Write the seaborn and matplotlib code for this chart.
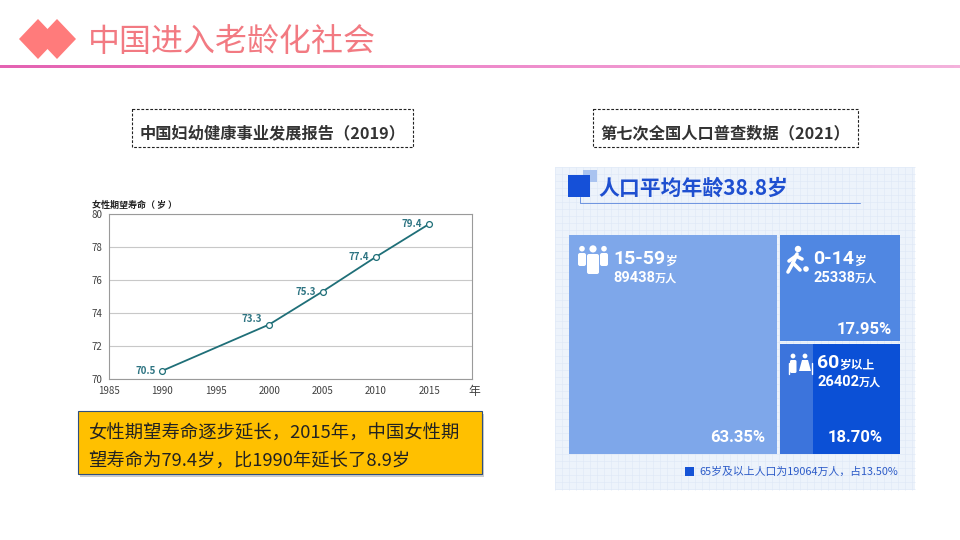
import numpy as np
import pandas as pd
import seaborn as sns
import matplotlib.pyplot as plt
from matplotlib.patches import Rectangle, Polygon, Circle, FancyBboxPatch
from matplotlib.colors import LinearSegmentedColormap

# data: female life expectancy (report 2019)
years = [1990, 2000, 2005, 2010, 2015]
life_exp = [70.5, 73.3, 75.3, 77.4, 79.4]

# data: 7th census (2021)
group_names = ['15-59', '0-14', '60']
group_units = ['岁', '岁', '岁以上']
group_pop = [89438, 25338, 26402]      # 万人
group_share = [63.35, 17.95, 18.70]    # %
over65_pop = 19064
over65_share = 13.50
mean_age = 38.8

sns.set_theme(style='white')
plt.rcParams['font.family'] = ['Noto Sans CJK SC', 'DejaVu Sans']
NUM = ['Roboto', 'Noto Sans CJK SC']

fig = plt.figure(figsize=(9.6, 5.4), dpi=100)

# background layer in pixel coords
bg = fig.add_axes([0, 0, 1, 1])
bg.set_xlim(0, 960)
bg.set_ylim(540, 0)
bg.axis('off')

# header
pink = '#FF7B7B'
bg.add_patch(Polygon([(19, 39), (38, 19), (57, 39), (38, 59)], color=pink, lw=0))
bg.add_patch(Polygon([(38, 39), (57, 19), (76, 39), (57, 59)], color=pink, lw=0))
bg.text(88, 42, '中国进入老龄化社会', fontsize=23, color='#F27A82', va='center')
cmap = LinearSegmentedColormap.from_list('pk', ['#E462B2', '#EE8ACB', '#F4B2DC'])
bg.imshow(np.linspace(0, 1, 200).reshape(1, -1), cmap=cmap, aspect='auto',
          extent=(0, 960, 68.5, 65.5), zorder=2)
bg.set_xlim(0, 960)
bg.set_ylim(540, 0)

# dashed caption boxes
for x0, x1, txt in [(132, 413, '中国妇幼健康事业发展报告（2019）'),
                    (593, 858, '第七次全国人口普查数据（2021）')]:
    bg.add_patch(Rectangle((x0, 109), x1 - x0, 38, fill=False, ec='#222222',
                           lw=0.8, ls=(0, (2.5, 1.5))))
    bg.text((x0 + x1) / 2, 133, txt, fontsize=11.7, fontweight='bold',
            color='#333333', ha='center', va='center')

# yellow note box with shadow
bg.add_patch(Rectangle((80, 414), 404, 63, color='#9A9A9A', alpha=0.5, lw=0))
bg.add_patch(Rectangle((78, 411), 404, 63, fc='#FFC000', ec='#2F4F7F', lw=0.8))
bg.text(88, 434, '女性期望寿命逐步延长，2015年，中国女性期', fontsize=13.2,
        color='#222222', va='center')
bg.text(88, 461, '望寿命为79.4岁，比1990年延长了8.9岁', fontsize=13.2,
        color='#222222', va='center')

# line chart labels outside axes
bg.text(92, 205, '女性期望寿命（ 岁 ）', fontsize=6.5, fontweight='bold',
        color='#222222', va='center')
bg.text(474, 391, '年', fontsize=8.5, color='#404040', ha='center', va='center')

# right panel background with fine grid
bg.add_patch(Rectangle((555, 167), 360, 323, color='#EDF3FB', lw=0, zorder=0.5))
for gx in np.arange(555, 916, 7):
    bg.plot([gx, gx], [167, 490], color='#DEE8F6', lw=0.4, zorder=0.8)
for gy in np.arange(167, 491, 7):
    bg.plot([555, 915], [gy, gy], color='#DEE8F6', lw=0.4, zorder=0.8)
bg.add_patch(Rectangle((583, 170), 14, 12, color='#A9C3F0', lw=0, zorder=3))
bg.add_patch(Rectangle((568, 175), 22, 22, color='#1550D8', lw=0, zorder=4))
bg.plot([580, 580, 860], [197, 203, 203], color='#6E94E0', lw=0.7, zorder=3)
bg.text(598, 188, f'人口平均年龄{mean_age}岁', fontsize=15, fontweight='bold',
        color='#1E4FD0', va='center', zorder=5)

# ---- line chart ----
teal = '#1F6F78'
df = pd.DataFrame({'year': years, 'age': life_exp})
ax = fig.add_axes([109 / 960, 161 / 540, 363 / 960, 165 / 540])
sns.lineplot(data=df, x='year', y='age', ax=ax, color=teal, lw=1.3, marker='o',
             markersize=4.2, markerfacecolor='white', markeredgecolor=teal,
             markeredgewidth=0.9)
ax.set_xlim(1985, 2019)
ax.set_ylim(70, 80)
ax.set_xticks(range(1985, 2016, 5))
ax.set_yticks(range(70, 81, 2))
ax.yaxis.grid(True, color='#C8C8C8', lw=0.8)
ax.set_xlabel('')
ax.set_ylabel('')
for s in ax.spines.values():
    s.set_color('#9A9A9A')
    s.set_linewidth(0.8)
ax.tick_params(length=0, labelsize=7, colors='#404040', pad=5)
label_dy = [0, 4, 0, 0, 0]
for x, y, dy in zip(years, life_exp, label_dy):
    ax.annotate(f'{y:.1f}', (x, y), xytext=(-5, dy), textcoords='offset points',
                ha='right', va='center', fontsize=7, fontweight='bold',
                color='#2E7482')

# ---- treemap ----
tm = fig.add_axes([569 / 960, (540 - 454) / 540, 331 / 960, 219 / 540])
tm.set_xlim(0, 1)
tm.set_ylim(1, 0)
tm.axis('off')
gx, gy = 0.009, 0.014
total = sum(group_share)
w_big = group_share[0] / total
tm.add_patch(Rectangle((0, 0), w_big - gx / 2, 1, color='#7EA7EA', lw=0))
x_r = w_big + gx / 2
w_r = 1 - x_r
h_top = group_share[1] / (group_share[1] + group_share[2])
tm.add_patch(Rectangle((x_r, 0), w_r, h_top - gy / 2, color='#5087E2', lw=0))
y_b = h_top + gy / 2
tm.add_patch(Rectangle((x_r, y_b), w_r, 1 - y_b, color='#3C74DC', lw=0))
w65 = w_r * over65_share / group_share[2]
tm.add_patch(Rectangle((1 - w65, y_b), w65, 1 - y_b, color='#0B50D6', lw=0))

# overlay for labels and icons
ov = fig.add_axes([0, 0, 1, 1])
ov.set_xlim(0, 960)
ov.set_ylim(540, 0)
ov.axis('off')


def big_small(x, y, big, small, bsize, ssize):
    t = ov.text(x, y, big, fontsize=bsize, fontweight='bold', color='white',
                family=NUM, va='baseline')
    ov.annotate(small, xy=(1, 0.22), xycoords=t, xytext=(0, 0),
                textcoords='offset points', fontsize=ssize, color='white',
                fontweight='bold', va='baseline')


heads = [(613, 264.5, 281.5), (813, 264.5, 281.5), (817, 368.5, 385.5)]
for (x, yb1, yb2), name, unit, pop in zip(heads, group_names, group_units, group_pop):
    big_small(x, yb1, name, unit, 14, 8.5)
    big_small(x, yb2, f'{pop}', '万人', 10.5, 8)

pct_pos = [(765, 438), (892, 329), (883, 438)]
for (x, y), sh in zip(pct_pos, group_share):
    ov.text(x, y, f'{sh:.2f}%', fontsize=12, fontweight='bold', color='white',
            family=NUM, ha='right', va='center')

# legend for 65+
ov.add_patch(Rectangle((685, 467), 9, 9, color='#1553D6', lw=0))
ov.text(699, 472, f'65岁及以上人口为{over65_pop}万人，占{over65_share:.2f}%',
        fontsize=7.8, color='#2C5BC8', va='center')

# icons
w = 'white'
# group of three people
for cx, r, top, bot, half in [(582, 2.8, 253, 266, 4), (604, 2.8, 253, 266, 4),
                              (593, 3.6, 254, 274, 6)]:
    ov.add_patch(Circle((cx, top - r - 1.5), r, color=w, lw=0))
    ov.add_patch(FancyBboxPatch((cx - half, top), 2 * half, bot - top,
                                boxstyle='round,pad=0,rounding_size=2',
                                color=w, lw=0))
# running kid with ball
ov.add_patch(Circle((798, 249), 3.2, color=w, lw=0))
for seg in [[(797, 254), (793, 263)], [(793, 263), (788, 272)],
            [(793, 263), (800, 270)], [(796, 256), (789, 261)],
            [(796, 256), (802, 259)]]:
    ov.plot(*zip(*seg), color=w, lw=2.6, solid_capstyle='round')
ov.add_patch(Circle((806, 269), 2.8, color=w, lw=0))
# elderly couple
ov.add_patch(Circle((793, 356), 2.4, color=w, lw=0))
ov.add_patch(FancyBboxPatch((790, 360), 6.5, 13, boxstyle='round,pad=0,rounding_size=1.5',
                            color=w, lw=0))
ov.plot([788.5, 788.5], [363, 374], color=w, lw=1)
ov.add_patch(Circle((805, 356), 2.4, color=w, lw=0))
ov.add_patch(Polygon([(802, 360), (808, 360), (811, 371), (799, 371)], color=w, lw=0))
ov.plot([812, 812], [363, 374], color=w, lw=1)

fig.savefig('out.png', dpi=100)
